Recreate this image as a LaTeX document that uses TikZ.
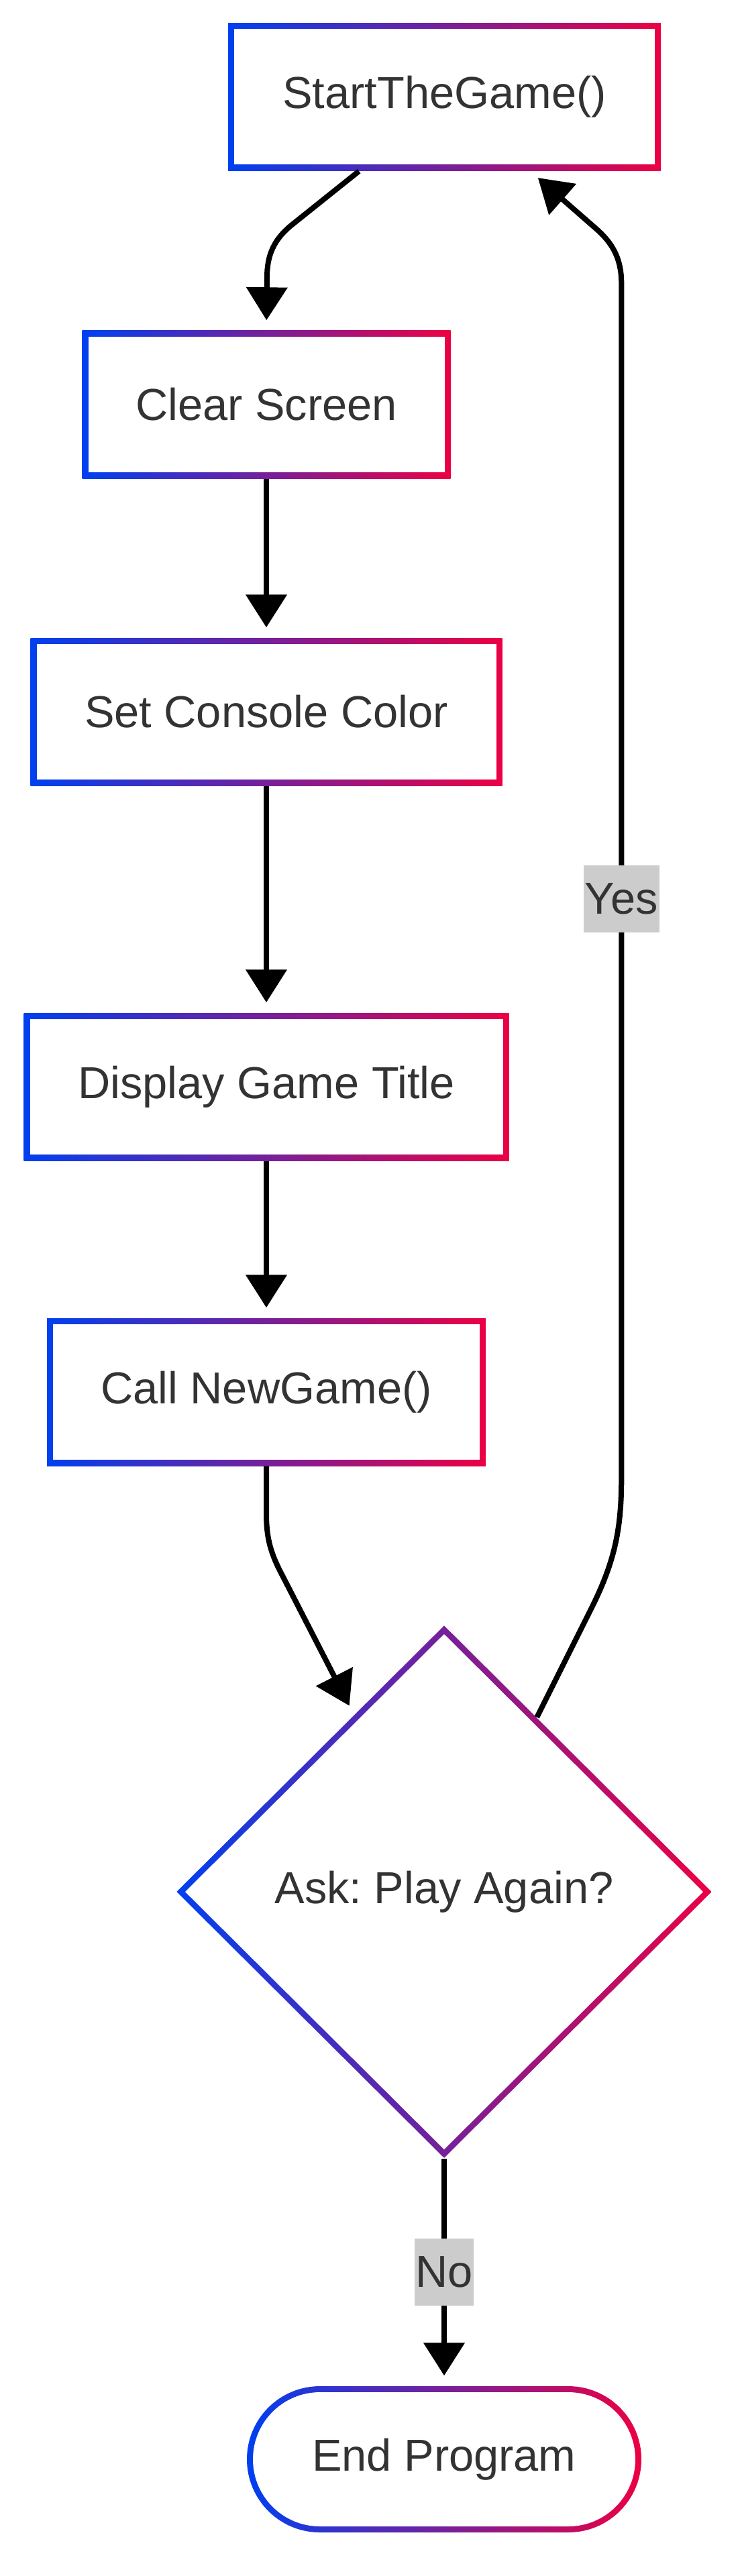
\documentclass[tikz,border=0pt]{standalone}
\usepackage{fontspec}
\setmainfont{Liberation Sans}
\frenchspacing
\usetikzlibrary{arrows.meta,shapes.geometric}

\definecolor{gblue}{RGB}{0,64,240}
\definecolor{gred}{RGB}{236,0,68}
\definecolor{txt}{RGB}{51,51,51}
\definecolor{lblgray}{RGB}{204,204,204}

% border width, and its inset along the diamond axes
\newcommand{\bw}{0.09cm}
\newcommand{\dw}{0.127cm}

\tikzset{
  base/.style={left color=gblue, right color=gred, text=txt, inner sep=0pt,
    font=\fontsize{19}{23}\selectfont},
  proc/.style={base, rectangle, minimum height=2.2cm,
    path picture={\fill[white] ([shift={(\bw,-\bw)}]path picture bounding box.north west)
      rectangle ([shift={(-\bw,\bw)}]path picture bounding box.south east);}},
  decide/.style={base, diamond, minimum width=7.98cm, minimum height=7.94cm,
    path picture={\fill[white] ([yshift=-\dw]path picture bounding box.north)
      -- ([xshift=-\dw]path picture bounding box.east)
      -- ([yshift=\dw]path picture bounding box.south)
      -- ([xshift=\dw]path picture bounding box.west) -- cycle;}},
  term/.style={base, rectangle, rounded corners=1.09cm, minimum height=2.18cm,
    path picture={\fill[white, rounded corners=1.0cm]
      ([shift={(\bw,-\bw)}]path picture bounding box.north west)
      rectangle ([shift={(-\bw,\bw)}]path picture bounding box.south east);}},
  lbl/.style={fill=lblgray, text=txt, font=\fontsize{19}{23}\selectfont,
    inner xsep=0.5pt, inner ysep=0pt, minimum height=1.0cm},
  flow/.style={line width=0.08cm, -{Triangle[width=0.6cm,length=0.49cm]},
    shorten >=0.15cm}
}

\begin{document}
\begin{tikzpicture}
    \useasboundingbox (0,0) rectangle (11.05,-38.4);

    % Steps of the routine
    \node[proc, minimum width=6.45cm] (start) at (6.625,-1.445) {StartTheGame()};
    \node[proc, minimum width=5.49cm] (clear) at (3.97,-6.03) {Clear Screen};
    \node[proc, minimum width=7.03cm] (color) at (3.97,-10.61) {Set Console Color};
    \node[proc, minimum width=7.23cm] (title) at (3.97,-16.2) {Display Game Title};
    \node[proc, minimum width=6.54cm] (newgame) at (3.97,-20.75) {Call NewGame()};

    % Question and end
    \node[decide] (again) at (6.62,-28.2) {Ask: Play Again?};
    \node[term, minimum width=5.88cm] (quit) at (6.62,-36.66) {End Program};

    % Flow down
    \draw[flow] ([xshift=-1.275cm]start.south) -- ++(-1.0,-0.8)
        to[out=-141,in=90] ++(-0.37,-0.78) -- (clear.north);
    \draw[flow] (clear.south) -- (color.north);
    \draw[flow] (color.south) -- (title.north);
    \draw[flow] (title.south) -- (newgame.north);
    \draw[flow] (newgame.south) -- ++(0,-0.7)
        to[out=-90,in=118] ++(0.24,-0.93) -- (again.117);

    % Answers
    \draw[flow] (again.62) -- ++(0.80,1.60) to[out=63.4,in=-90] ++(0.46,1.97)
        -- node[lbl, pos=0.485] (yes) {Yes} ++(0,17.8)
        to[out=90,in=-40.7] ++(-0.39,0.83) -- ([xshift=1.28cm]start.south);
    \draw[flow] (again.south) -- node[lbl] (no) {No} (quit.north);

\end{tikzpicture}
\end{document}
